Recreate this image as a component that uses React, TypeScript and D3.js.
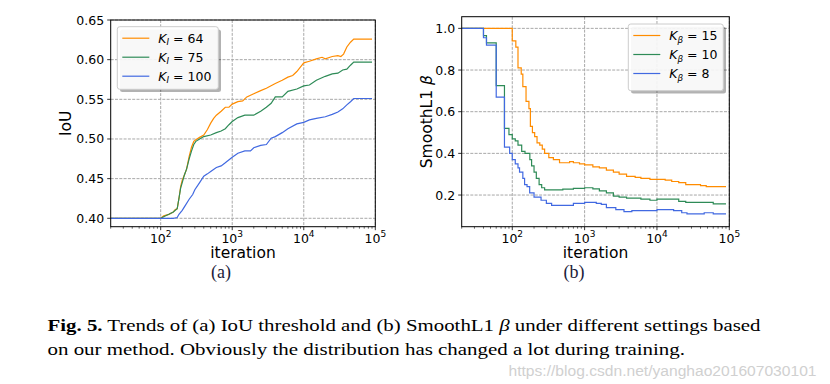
import React from "react";
import * as d3 from "d3";

// ---------- data ----------
const iouX64 = [20, 100, 110, 130, 150, 160, 170, 180, 190, 200, 215, 230, 250, 270, 290, 310, 350, 400, 450, 500, 550, 600, 700, 800, 900, 1000, 1200, 1400, 1600, 2000, 2500, 3000, 4000, 5000, 6000, 7000, 8000, 10000, 12000, 15000, 18000, 20000, 25000, 30000, 33000, 36000, 40000, 45000, 50000, 90000];
const iouY64 = [0.4, 0.4, 0.403, 0.405, 0.408, 0.411, 0.412, 0.425, 0.44, 0.448, 0.455, 0.462, 0.478, 0.49, 0.497, 0.499, 0.502, 0.505, 0.512, 0.52, 0.526, 0.53, 0.535, 0.54, 0.54, 0.544, 0.547, 0.548, 0.553, 0.557, 0.561, 0.564, 0.57, 0.574, 0.578, 0.58, 0.585, 0.596, 0.598, 0.601, 0.603, 0.601, 0.604, 0.605, 0.604, 0.607, 0.616, 0.622, 0.626, 0.626];

const iouX75 = [20, 100, 110, 130, 150, 170, 180, 190, 200, 215, 230, 250, 270, 290, 310, 350, 400, 500, 600, 700, 800, 900, 1000, 1200, 1500, 2000, 2500, 3000, 3500, 4000, 5000, 6000, 8000, 10000, 12000, 15000, 20000, 25000, 30000, 35000, 40000, 45000, 50000, 90000];
const iouY75 = [0.4, 0.4, 0.402, 0.405, 0.408, 0.412, 0.425, 0.438, 0.445, 0.455, 0.462, 0.475, 0.485, 0.493, 0.497, 0.5, 0.503, 0.505, 0.508, 0.51, 0.513, 0.518, 0.522, 0.527, 0.53, 0.53, 0.535, 0.54, 0.545, 0.553, 0.553, 0.56, 0.563, 0.567, 0.568, 0.574, 0.579, 0.582, 0.583, 0.587, 0.588, 0.593, 0.597, 0.597];

const iouX100 = [20, 150, 170, 180, 200, 220, 250, 280, 300, 350, 400, 450, 500, 600, 700, 800, 1000, 1200, 1500, 1800, 2000, 2500, 3000, 3500, 4000, 5000, 6000, 8000, 10000, 12000, 15000, 20000, 25000, 30000, 35000, 40000, 45000, 50000, 90000];
const iouY100 = [0.4, 0.4, 0.401, 0.405, 0.41, 0.416, 0.424, 0.43, 0.436, 0.445, 0.453, 0.456, 0.459, 0.464, 0.466, 0.47, 0.477, 0.482, 0.485, 0.485, 0.489, 0.492, 0.493, 0.501, 0.503, 0.508, 0.513, 0.519, 0.521, 0.524, 0.526, 0.528, 0.531, 0.534, 0.538, 0.543, 0.547, 0.551, 0.551];

const betaX15 = [20, 100, 112, 120, 133, 140, 155, 170, 178, 190, 204, 220, 240, 260, 280, 320, 370, 450, 500, 620, 700, 850, 1000, 1300, 1600, 2000, 2500, 3000, 3800, 5000, 6000, 8000, 10000, 13000, 16000, 20000, 25000, 30000, 40000, 48000, 90000];
const betaY15 = [1.0, 0.94, 0.91, 0.81, 0.78, 0.72, 0.65, 0.615, 0.53, 0.5, 0.48, 0.45, 0.44, 0.42, 0.4, 0.38, 0.37, 0.355, 0.355, 0.36, 0.355, 0.35, 0.345, 0.335, 0.33, 0.32, 0.31, 0.3, 0.29, 0.285, 0.28, 0.275, 0.275, 0.272, 0.265, 0.26, 0.25, 0.25, 0.245, 0.24, 0.24];

const betaX10 = [20, 40, 44, 60, 78, 90, 100, 110, 120, 135, 150, 175, 185, 200, 215, 235, 255, 280, 300, 400, 500, 700, 1000, 1300, 1600, 2000, 2500, 3000, 3800, 5000, 6000, 8000, 10000, 16000, 20000, 25000, 40000, 60000, 90000];
const betaY10 = [1.0, 0.965, 0.93, 0.725, 0.52, 0.49, 0.47, 0.46, 0.44, 0.41, 0.4, 0.37, 0.34, 0.31, 0.28, 0.25, 0.235, 0.225, 0.225, 0.225, 0.228, 0.232, 0.235, 0.23, 0.22, 0.21, 0.195, 0.19, 0.185, 0.185, 0.18, 0.175, 0.18, 0.18, 0.17, 0.165, 0.165, 0.158, 0.158];

const betaX8 = [20, 40, 44, 60, 78, 92, 100, 110, 120, 126, 140, 148, 160, 174, 200, 250, 296, 350, 410, 560, 700, 1000, 1450, 1700, 2000, 2700, 3500, 4500, 6000, 8800, 10000, 13000, 17000, 22000, 26000, 35000, 45000, 60000, 90000];
const betaY8 = [1.0, 0.955, 0.92, 0.67, 0.43, 0.4, 0.37, 0.35, 0.33, 0.31, 0.28, 0.25, 0.24, 0.21, 0.19, 0.175, 0.16, 0.15, 0.15, 0.15, 0.16, 0.165, 0.16, 0.155, 0.14, 0.13, 0.12, 0.125, 0.125, 0.125, 0.13, 0.13, 0.125, 0.115, 0.11, 0.11, 0.115, 0.11, 0.11];

const iouTicks = [0.4, 0.45, 0.5, 0.55, 0.6, 0.65];
const betaTicks = [0.2, 0.4, 0.6, 0.8, 1.0];
const xMajorExp = [2, 3, 4, 5];
const iouLegend = ["64", "75", "100"];
const betaLegend = ["15", "10", "8"];
const caption1 = "Trends of (a) IoU threshold and (b) SmoothL1 ";
const caption1b = " under different settings based";
const caption2 = "on our method. Obviously the distribution has changed a lot during training.";
const watermark = "https://blog.csdn.net/yanghao201607030101";

const ORANGE = "#ff8c00";
const GREEN = "#2e8b57";
const BLUE = "#4169e1";
const SANS = "'DejaVu Sans', sans-serif";

type Series = { xs: number[]; ys: number[]; color: string };

function minorTicks(lo: number, hi: number): number[] {
  const out: number[] = [];
  for (let e = 1; e <= 5; e++) {
    for (let m = 2; m <= 9; m++) {
      const v = m * Math.pow(10, e);
      if (v >= lo && v <= hi) out.push(v);
    }
  }
  return out;
}

function Panel(props: {
  x0: number; x1: number; y0: number; y1: number;
  yDomain: [number, number]; yTicks: number[]; yFmt: (v: number) => string;
  series: Series[]; step: boolean; ylabel: React.ReactNode; ylabelX: number;
  legend: { x: number; y: number; w: number; h: number; sub: string; labels: string[] };
  sublabel: string; subX: number;
}) {
  const { x0, x1, y0, y1 } = props;
  const x = d3.scaleLog().domain([20, 1e5]).range([x0, x1]);
  const y = d3.scaleLinear().domain(props.yDomain).range([y1, y0]);
  const line = d3
    .line<[number, number]>()
    .x((d) => x(d[0]))
    .y((d) => y(d[1]))
    .curve(props.step ? d3.curveStepAfter : d3.curveLinear);
  const clipId = "clip" + Math.round(x0);
  const lg = props.legend;
  const cx = (x0 + x1) / 2;
  const cy = (y0 + y1) / 2;
  return (
    <g>
      <defs>
        <clipPath id={clipId}>
          <rect x={x0} y={y0} width={x1 - x0} height={y1 - y0} />
        </clipPath>
      </defs>
      {xMajorExp.map((e) => (
        <line key={"gx" + e} x1={x(Math.pow(10, e))} x2={x(Math.pow(10, e))} y1={y0} y2={y1}
          stroke="#a8a8a8" strokeWidth={1} strokeDasharray="3,1.3" />
      ))}
      {props.yTicks.map((t) => (
        <line key={"gy" + t} x1={x0} x2={x1} y1={y(t)} y2={y(t)}
          stroke="#a8a8a8" strokeWidth={1} strokeDasharray="3,1.3" />
      ))}
      <g clipPath={`url(#${clipId})`}>
        {props.series.map((s, i) => (
          <path key={i} d={line(s.xs.map((v, j) => [v, s.ys[j]] as [number, number])) || ""}
            fill="none" stroke={s.color} strokeWidth={1.2} />
        ))}
      </g>
      <rect x={x0} y={y0} width={x1 - x0} height={y1 - y0} fill="none" stroke="#000" strokeWidth={1} />
      {props.yTicks.map((t) => (
        <g key={"yt" + t}>
          <line x1={x0 - 3.5} x2={x0} y1={y(t)} y2={y(t)} stroke="#000" strokeWidth={0.8} />
          <text x={x0 - 6.5} y={y(t)} textAnchor="end" dominantBaseline="central"
            fontFamily={SANS} fontSize={12.5} fill="#000">{props.yFmt(t)}</text>
        </g>
      ))}
      {minorTicks(20, 1e5).map((t) => (
        <line key={"mt" + t} x1={x(t)} x2={x(t)} y1={y1} y2={y1 + 2} stroke="#000" strokeWidth={0.6} />
      ))}
      {xMajorExp.map((e) => (
        <g key={"xt" + e}>
          <line x1={x(Math.pow(10, e))} x2={x(Math.pow(10, e))} y1={y1} y2={y1 + 3.5} stroke="#000" strokeWidth={0.8} />
          <text x={x(Math.pow(10, e))} y={y1 + 16} textAnchor="middle" fontFamily={SANS} fontSize={12.5} fill="#000">
            10<tspan dy={-5.5} fontSize={9}>{e}</tspan>
          </text>
        </g>
      ))}
      <text x={cx} y={y1 + 31.5} textAnchor="middle" fontFamily={SANS} fontSize={15.5} fill="#000">iteration</text>
      <text transform={`translate(${props.ylabelX},${cy}) rotate(-90)`} textAnchor="middle"
        fontFamily={SANS} fontSize={15.5} fill="#000">{props.ylabel}</text>
      <rect x={lg.x + 2.7} y={lg.y + 2.7} width={lg.w} height={lg.h} rx={2.5} fill="#000" opacity={0.3} />
      <rect x={lg.x} y={lg.y} width={lg.w} height={lg.h} rx={2.5} fill="#fff" fillOpacity={0.9} stroke="#cccccc" strokeWidth={1} />
      {lg.labels.map((lab, i) => {
        const ry = lg.y + 11.5 + i * 19;
        return (
          <g key={"lg" + i}>
            <line x1={lg.x + 5} x2={lg.x + 32} y1={ry} y2={ry} stroke={props.series[i].color} strokeWidth={1.2} />
            <text x={lg.x + 41} y={ry + 4.5} fontFamily={SANS} fontSize={12.5} fill="#000">
              <tspan fontStyle="italic">K</tspan>
              <tspan fontStyle="italic" fontSize={8.8} dy={2.5}>{lg.sub}</tspan>
              <tspan dy={-2.5}>{" = " + lab}</tspan>
            </text>
          </g>
        );
      })}
      <text x={props.subX} y={y1 + 51} textAnchor="middle" fontFamily="'Liberation Serif', serif" fontSize={18} fill="#1c1c3a">{props.sublabel}</text>
    </g>
  );
}

export default function App() {
  const iouSeries: Series[] = [
    { xs: iouX64, ys: iouY64, color: ORANGE },
    { xs: iouX75, ys: iouY75, color: GREEN },
    { xs: iouX100, ys: iouY100, color: BLUE },
  ];
  const betaSeries: Series[] = [
    { xs: betaX15, ys: betaY15, color: ORANGE },
    { xs: betaX10, ys: betaY10, color: GREEN },
    { xs: betaX8, ys: betaY8, color: BLUE },
  ];
  return (
    <svg width={830} height={384} style={{ position: "absolute", left: 0, top: 0, background: "#fff" }}>
      <rect x={0} y={0} width={830} height={384} fill="#fff" />
      <Panel x0={110.7} x1={375.3} y0={20} y1={226.7} yDomain={[0.3894, 0.65]} yTicks={iouTicks}
        yFmt={(v) => v.toFixed(2)} series={iouSeries} step={false} ylabel="IoU" ylabelX={71}
        legend={{ x: 117.3, y: 26.7, w: 101, h: 62.6, sub: "I", labels: iouLegend }}
        sublabel="(a)" subX={221} />
      <Panel x0={461.7} x1={729.3} y0={16.7} y1={226.7} yDomain={[0.048, 1.056]} yTicks={betaTicks}
        yFmt={(v) => v.toFixed(1)} series={betaSeries} step={true}
        ylabel={<>SmoothL1 <tspan fontStyle="italic">β</tspan></>} ylabelX={432}
        legend={{ x: 628.3, y: 24, w: 95, h: 66.7, sub: "β", labels: betaLegend }}
        sublabel="(b)" subX={574} />
      <text x={47.5} y={331} fontFamily="'Liberation Serif', serif" fontSize={16} fill="#000"
        textLength={713} lengthAdjust="spacingAndGlyphs">
        <tspan fontWeight="bold">Fig. 5.</tspan>{" " + caption1}<tspan fontStyle="italic">β</tspan>{caption1b}
      </text>
      <text x={47.5} y={355} fontFamily="'Liberation Serif', serif" fontSize={16} fill="#000"
        textLength={637.5} lengthAdjust="spacingAndGlyphs">{caption2}</text>
      <text x={508.5} y={375.5} fontFamily="'Liberation Sans', sans-serif" fontSize={14} fill="#d0d0d0"
        textLength={308} lengthAdjust="spacingAndGlyphs">{watermark}</text>
    </svg>
  );
}
